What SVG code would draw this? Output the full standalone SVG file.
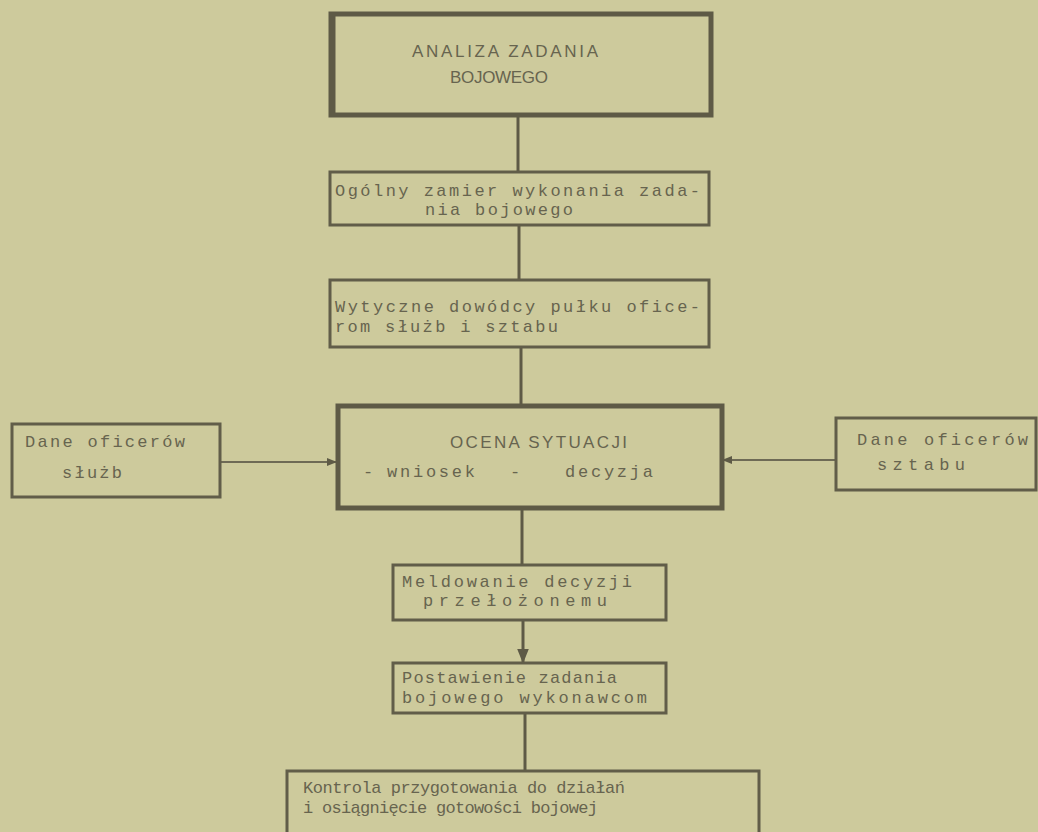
<svg xmlns="http://www.w3.org/2000/svg" width="1038" height="832" viewBox="0 0 1038 832">
<defs>
<style>
.bg{fill:#cdca9c}
.box{fill:none;stroke:#615d49;stroke-width:3}
.thick{fill:none;stroke:#5e5a46;stroke-width:5}
.t{font-family:"Liberation Mono","DejaVu Sans Mono",monospace;font-size:17px;fill:#67644f}
.cap{font-family:"Liberation Sans","DejaVu Sans",sans-serif;font-size:17px;fill:#67644f}
.c{fill:none;stroke:#5e5a46;stroke-width:3}
.a{fill:none;stroke:#6e6a55;stroke-width:2}
</style>
<marker id="ah" viewBox="0 0 10 10" refX="9" refY="5" markerWidth="5" markerHeight="5" orient="auto" markerUnits="strokeWidth">
<path d="M0,1 L10,5 L0,9 Z" fill="#5e5a46"/>
</marker>
</defs>
<rect class="bg" x="0" y="0" width="1038" height="832"/>
<g id="connectors">
<line class="c" x1="518" y1="116" x2="518" y2="172"/>
<line class="c" x1="519" y1="225" x2="519" y2="280"/>
<line class="c" x1="521" y1="347" x2="521" y2="405"/>
<line class="a" x1="220" y1="462" x2="336" y2="462" marker-end="url(#ah)"/>
<line class="a" x1="836" y1="460" x2="723" y2="460" marker-end="url(#ah)"/>
<line class="c" x1="522" y1="508" x2="522" y2="565"/>
<line class="c" x1="523" y1="620" x2="523" y2="662" marker-end="url(#ah)"/>
<line class="c" x1="525" y1="713" x2="525" y2="771"/>
</g>
<g id="n1">
<rect class="thick" x="331" y="14" width="380" height="101"/>
<line x1="333" y1="16" x2="333" y2="113" stroke="#5e5a46" stroke-width="5"/>
<text class="cap" x="412" y="57" textLength="186" lengthAdjust="spacing">ANALIZA ZADANIA</text>
<text class="cap" x="450" y="83" textLength="98" lengthAdjust="spacing">BOJOWEGO</text>
</g>
<g id="n2">
<rect class="box" x="330" y="172" width="379" height="53"/>
<text class="t" x="335" y="196" textLength="365" lengthAdjust="spacing">Ogólny zamier wykonania zada-</text>
<text class="t" x="425" y="215" textLength="148" lengthAdjust="spacing">nia bojowego</text>
</g>
<g id="n3">
<rect class="box" x="330" y="280" width="379" height="67"/>
<text class="t" x="335" y="312" textLength="365" lengthAdjust="spacing">Wytyczne dowódcy pułku ofice-</text>
<text class="t" x="335" y="332" textLength="223" lengthAdjust="spacing">rom służb i sztabu</text>
</g>
<g id="n4">
<rect class="thick" x="338" y="406" width="384" height="102"/>
<text class="cap" x="450" y="448" textLength="177" lengthAdjust="spacing">OCENA SYTUACJI</text>
<text class="t" x="363" y="477">-</text>
<text class="t" x="387" y="477" textLength="88" lengthAdjust="spacing">wniosek</text>
<text class="t" x="510" y="477">-</text>
<text class="t" x="565" y="477" textLength="88" lengthAdjust="spacing">decyzja</text>
</g>
<g id="n5">
<rect class="box" x="12" y="424" width="208" height="73"/>
<text class="t" x="25" y="447" textLength="160" lengthAdjust="spacing">Dane oficerów</text>
<text class="t" x="62" y="478" textLength="60" lengthAdjust="spacing">służb</text>
</g>
<g id="n6">
<rect class="box" x="836" y="418" width="200" height="72"/>
<text class="t" x="857" y="445" textLength="171" lengthAdjust="spacing">Dane oficerów</text>
<text class="t" x="877" y="470" textLength="88" lengthAdjust="spacing">sztabu</text>
</g>
<g id="n7">
<rect class="box" x="393" y="565" width="273" height="55"/>
<text class="t" x="402" y="587" textLength="230" lengthAdjust="spacing">Meldowanie decyzji</text>
<text class="t" x="423" y="606" textLength="184" lengthAdjust="spacing">przełożonemu</text>
</g>
<g id="n8">
<rect class="box" x="393" y="663" width="273" height="50"/>
<text class="t" x="402" y="683" textLength="215" lengthAdjust="spacing">Postawienie zadania</text>
<text class="t" x="402" y="703" textLength="245" lengthAdjust="spacing">bojowego wykonawcom</text>
</g>
<g id="n9">
<rect class="box" x="287" y="771" width="472" height="66"/>
<text class="t" x="303" y="793" textLength="322" lengthAdjust="spacing">Kontrola przygotowania do działań</text>
<text class="t" x="303" y="813" textLength="295" lengthAdjust="spacing">i osiągnięcie gotowości bojowej</text>
</g>
</svg>
